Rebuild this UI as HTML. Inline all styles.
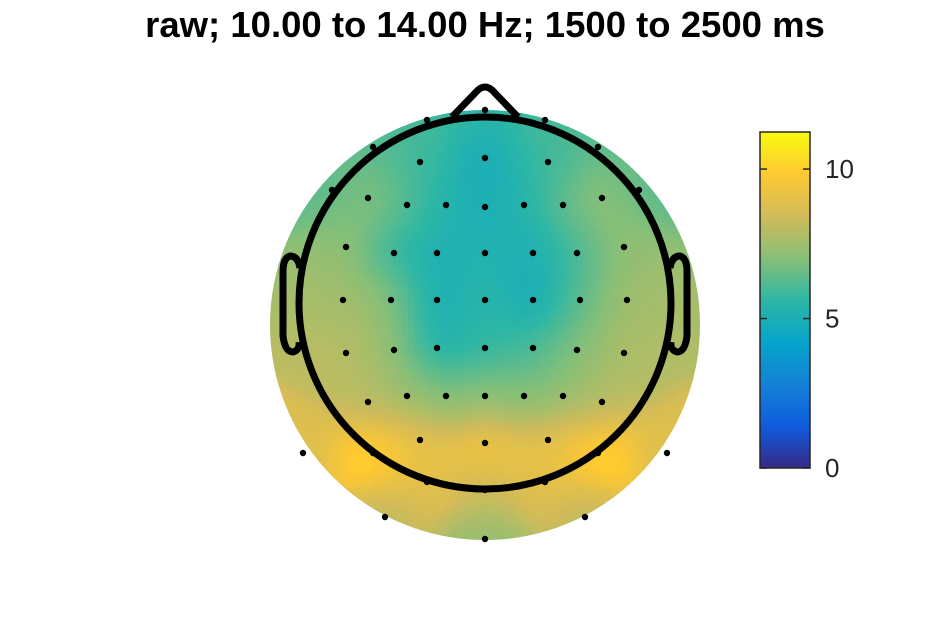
<!DOCTYPE html>
<html><head><meta charset="utf-8"><style>
html,body{margin:0;padding:0;background:#fff;}
svg{display:block;font-family:"Liberation Sans",sans-serif;}
</style></head><body>
<svg id="chart" width="938" height="625" viewBox="0 0 938 625">
<defs>
<clipPath id="interpClip"><circle cx="485" cy="325" r="215"/></clipPath>
<linearGradient id="parula" x1="0" y1="1" x2="0" y2="0">
<stop offset="0" stop-color="#352a87"/><stop offset="0.125" stop-color="#0f5cdd"/>
<stop offset="0.25" stop-color="#1481d6"/><stop offset="0.375" stop-color="#06a4ca"/>
<stop offset="0.5" stop-color="#2eb7a4"/><stop offset="0.625" stop-color="#87bf77"/>
<stop offset="0.75" stop-color="#d1bb59"/><stop offset="0.875" stop-color="#fec832"/>
<stop offset="1" stop-color="#f9fb0e"/></linearGradient>
</defs>
<text x="485" y="37" text-anchor="middle" font-size="36.5" font-weight="bold" fill="#000">raw; 10.00 to 14.00 Hz; 1500 to 2500 ms</text>
<g id="heat" clip-path="url(#interpClip)"></g>
<g id="head" fill="none" stroke="#000" stroke-width="7" stroke-linejoin="round">
<path d="M452,117 L478,90 Q485,84 492,90 L518,117"/>
<path d="M300,268 Q298,256 290,256 Q283,258 283,272 L283,336 Q285,352 293,352 Q300,350 299,342"/>
<path d="M670,268 Q672,256 680,256 Q687,258 687,272 L687,336 Q685,352 677,352 Q670,350 671,342"/>
<circle cx="485" cy="303" r="186"/>
</g>
<g id="electrodes"></g>
<rect x="760" y="132" width="50" height="336" fill="url(#parula)" stroke="#262626" stroke-width="1.5"/>
<g id="cbticks" font-size="26" fill="#262626"></g>
</svg>
<script>
const elecX = [485,420,548,427,545,373,598,485,332,639, 368,407,446,485,524,563,602, 346,394,437,485,533,577,624, 343,391,437,485,533,580,627, 346,394,437,485,533,577,624, 368,407,446,485,524,563,602, 420,485,548, 303,373,598,667, 427,545,485, 385,585, 485];
const elecY = [158,162,162,120,120,147,147,110,190,190, 198,205,205,207,205,205,198, 247,253,253,253,253,253,247, 300,300,300,300,300,300,300, 353,350,348,348,348,350,353, 402,396,396,396,396,396,402, 440,443,440, 453,453,453,453, 482,482,490, 517,517, 539];
const elecVal = [4.8,5.8,5.8,6,6,6.3,6.3,5.5,6.2,6.2, 7.2,6.3,5.2,4.9,5.2,6.5,7.5, 7.3,5.6,5,5.3,4.9,6,7.3, 7.6,7.2,4.8,5.6,4.6,6.4,7.6, 8,7.3,5,5.6,6,7,7.8, 8,7.4,6.8,7.2,6.8,7.2,8, 9.2,9.8,9.2, 8.8,10.5,10.5,8.8, 9,9,8.3, 8,8, 7.2];
const cbTicks = [0,5,10];
const cMin = 0, cMax = 11.24;
const NS="http://www.w3.org/2000/svg";
const stops=[[0x35,0x2a,0x87],[0x0f,0x5c,0xdd],[0x14,0x81,0xd6],[0x06,0xa4,0xca],[0x2e,0xb7,0xa4],[0x87,0xbf,0x77],[0xd1,0xbb,0x59],[0xfe,0xc8,0x32],[0xf9,0xfb,0x0e]];
function color(v){let t=Math.max(0,Math.min(1,(v-cMin)/(cMax-cMin)))*(stops.length-1);let i=Math.min(stops.length-2,Math.floor(t)),f=t-i;
const c=stops[i].map((a,k)=>Math.round(a+(stops[i+1][k]-a)*f));return `rgb(${c[0]},${c[1]},${c[2]})`;}
function cbY(v){return 468-(v-cMin)/(cMax-cMin)*336;}
const heat=document.getElementById('heat');
const cell=5, sig2=2*26*26;
for(let y=108;y<544;y+=cell){for(let x=268;x<704;x+=cell){
 const dx0=x+cell/2-485,dy0=y+cell/2-325; if(dx0*dx0+dy0*dy0>222*222)continue;
 let sw=0,sv=0;
 for(let i=0;i<elecX.length;i++){const dx=x+cell/2-elecX[i],dy=y+cell/2-elecY[i];const d2=dx*dx+dy*dy;
  const w=Math.exp(-d2/sig2)+1e-12/(1+d2); sw+=w; sv+=w*elecVal[i];}
 const v=sv/sw;
 const r=document.createElementNS(NS,'rect');
 r.setAttribute('x',x);r.setAttribute('y',y);r.setAttribute('width',cell+0.5);r.setAttribute('height',cell+0.5);r.setAttribute('fill',color(v));
 
 
 heat.appendChild(r);
}}
const eg=document.getElementById('electrodes');
for(let i=0;i<elecX.length;i++){const c=document.createElementNS(NS,'circle');
 c.setAttribute('cx',elecX[i]);c.setAttribute('cy',elecY[i]);c.setAttribute('r',3.2);c.setAttribute('fill','#000');
 
 
 eg.appendChild(c);}
const tg=document.getElementById('cbticks');
cbTicks.forEach(v=>{const y=cbY(v);
 const t=document.createElementNS(NS,'text');t.setAttribute('x',825);t.setAttribute('y',y+9);t.textContent=v;
 
 
 tg.appendChild(t);
 [[760,767],[803,810]].forEach(p=>{const l=document.createElementNS(NS,'line');l.setAttribute('x1',p[0]);l.setAttribute('x2',p[1]);l.setAttribute('y1',y);l.setAttribute('y2',y);l.setAttribute('stroke','#262626');l.setAttribute('stroke-width',1.5);
 
 
 tg.appendChild(l);});
});
</script>
</body></html>
